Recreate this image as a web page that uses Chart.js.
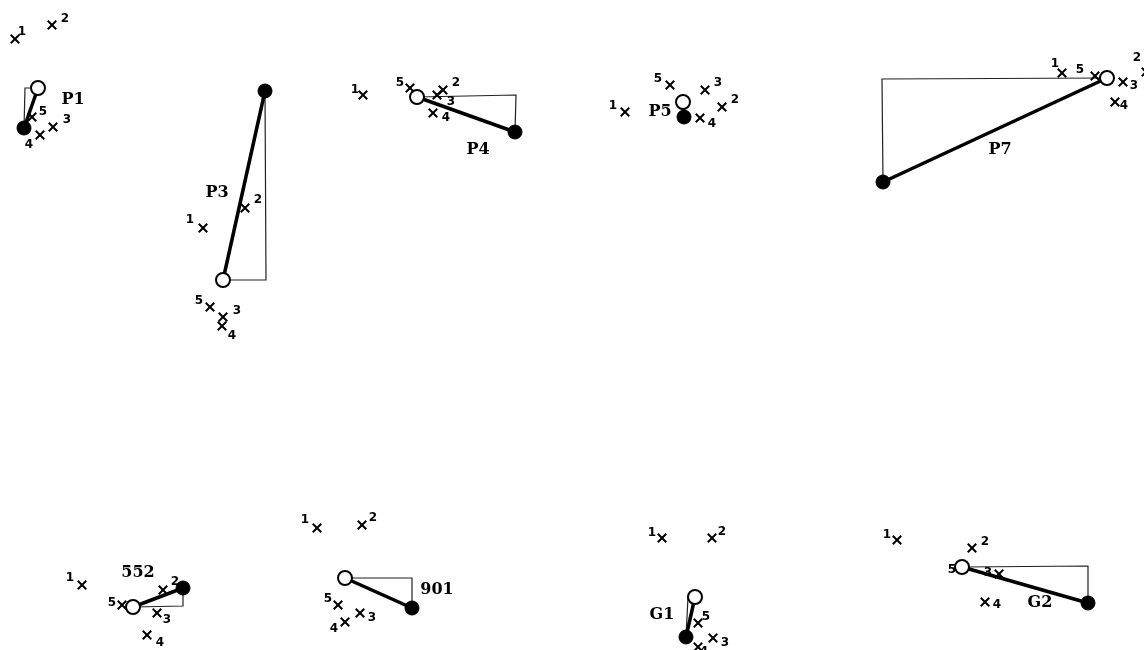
<!DOCTYPE html>
<html>
<head>
<meta charset="utf-8">
<script src="https://cdn.jsdelivr.net/npm/chart.js@4/dist/chart.umd.min.js"></script>
<style>
  body { margin: 0; background: #fff; }
  #wrap { width: 1144px; height: 650px; }
</style>
</head>
<body>
<div id="wrap"><canvas id="plot"></canvas></div>
<script>
'use strict';

/*===== data (units = reference pixels) =====*/
const groups = ['P1', 'P3', 'P4', 'P5', 'P7', '552', '901', 'G1', 'G2'];
const openPts = [[38, 88], [223, 280], [417, 97], [683, 102], [1107, 78], [133, 607], [345, 578], [695, 597], [962, 567]];
const filledPts = [[24, 128], [265, 91], [515, 132], [684, 117], [883, 182], [183, 588], [412, 608], [686, 637], [1088, 603]];
const cornerPts = [[25, 88], [266, 280], [516, 95], null, [882, 79], [183, 606], [412, 578], [688, 597], [1088, 566]];
const groupLabelPts = [[73, 100], [217, 193], [478, 150], [660, 112], [1000, 150], [138, 573], [437, 590], [662, 615], [1040, 603]];

// crosses: [x, y, number, labelX, labelY]
const crossesP1 = [[15, 39, '1', 22, 32], [52, 25, '2', 65, 19], [32, 117, '5', 43, 112], [53, 127, '3', 67, 120], [40, 135, '4', 29, 145]];
const crossesP3 = [[245, 208, '2', 258, 200], [203, 228, '1', 190, 220], [210, 307, '5', 199, 301], [223, 317, '3', 237, 311], [222, 326, '4', 232, 336]];
const crossesP4 = [[363, 95, '1', 355, 90], [410, 88, '5', 400, 83], [443, 90, '2', 456, 83], [437, 95, '3', 451, 102], [433, 113, '4', 446, 118]];
const crossesP5 = [[625, 112, '1', 613, 106], [670, 85, '5', 658, 79], [705, 90, '3', 718, 83], [722, 107, '2', 735, 100], [700, 118, '4', 712, 124]];
const crossesP7 = [[1062, 73, '1', 1055, 64], [1095, 76, '5', 1080, 70], [1123, 82, '3', 1134, 86], [1115, 102, '4', 1124, 106], [1146, 72, '2', 1137, 58]];
const crosses552 = [[82, 585, '1', 70, 578], [163, 590, '2', 175, 582], [122, 605, '5', 112, 603], [157, 613, '3', 167, 620], [147, 635, '4', 160, 643]];
const crosses901 = [[317, 528, '1', 305, 520], [362, 525, '2', 373, 518], [338, 605, '5', 328, 599], [360, 613, '3', 372, 618], [345, 622, '4', 334, 629]];
const crossesG1 = [[662, 538, '1', 652, 533], [712, 538, '2', 722, 532], [698, 623, '5', 706, 617], [713, 638, '3', 725, 643], [698, 647, '4', 704, 652]];
const crossesG2 = [[897, 540, '1', 887, 535], [972, 548, '2', 985, 542], [962, 567, '5', 952, 570], [999, 574, '3', 988, 573], [985, 602, '4', 997, 605]];
const allCrosses = [crossesP1, crossesP3, crossesP4, crossesP5, crossesP7, crosses552, crosses901, crossesG1, crossesG2];

const pt = p => ({ x: p[0], y: p[1] });

/*===== datasets =====*/
const datasets = [];

groups.forEach((g, i) => {
  // trait épais ouvert -> plein
  datasets.push({
    data: [pt(openPts[i]), pt(filledPts[i])],
    showLine: true, borderColor: '#000', borderWidth: 3.5,
    pointRadius: 0, order: 3
  });
  // petit triangle rectangle
  if (cornerPts[i]) {
    datasets.push({
      data: [pt(openPts[i]), pt(cornerPts[i]), pt(filledPts[i])],
      showLine: true, borderColor: '#222', borderWidth: 1.2,
      pointRadius: 0, order: 4
    });
  }
});

datasets.push({
  data: allCrosses.flat().map(c => ({ x: c[0], y: c[1] })),
  pointStyle: 'crossRot', pointRadius: 6, borderColor: '#000',
  pointBorderWidth: 2, order: 2
});

datasets.push({
  data: filledPts.map(pt),
  pointStyle: 'circle', pointRadius: 7, pointBackgroundColor: '#000',
  pointBorderColor: '#000', pointBorderWidth: 1, order: 1
});

datasets.push({
  data: openPts.map(pt),
  pointStyle: 'circle', pointRadius: 7, pointBackgroundColor: '#fff',
  pointBorderColor: '#000', pointBorderWidth: 2, order: 0
});

/*===== textes =====*/
const textPlugin = {
  id: 'texts',
  afterDatasetsDraw(chart) {
    const c = chart.ctx;
    const xs = chart.scales.x, ys = chart.scales.y;
    c.save();
    c.fillStyle = '#000';
    c.textAlign = 'center';
    c.textBaseline = 'middle';
    c.font = 'bold 16px "DejaVu Serif", serif';
    groups.forEach((g, i) => {
      c.fillText(g, xs.getPixelForValue(groupLabelPts[i][0]), ys.getPixelForValue(groupLabelPts[i][1]));
    });
    c.font = 'bold 12px "DejaVu Sans", sans-serif';
    allCrosses.flat().forEach(cr => {
      c.fillText(cr[2], xs.getPixelForValue(cr[3]), ys.getPixelForValue(cr[4]));
    });
    c.restore();
  }
};

new Chart(document.getElementById('plot').getContext('2d'), {
  type: 'scatter',
  data: { datasets: datasets },
  options: {
    responsive: true,
    maintainAspectRatio: false,
    animation: false,
    layout: { padding: 0, autoPadding: false },
    plugins: { legend: { display: false }, tooltip: { enabled: false } },
    scales: {
      x: { type: 'linear', min: 0, max: 1144, display: false },
      y: { type: 'linear', min: 0, max: 650, reverse: true, display: false }
    }
  },
  plugins: [textPlugin]
});
</script>
</body>
</html>
